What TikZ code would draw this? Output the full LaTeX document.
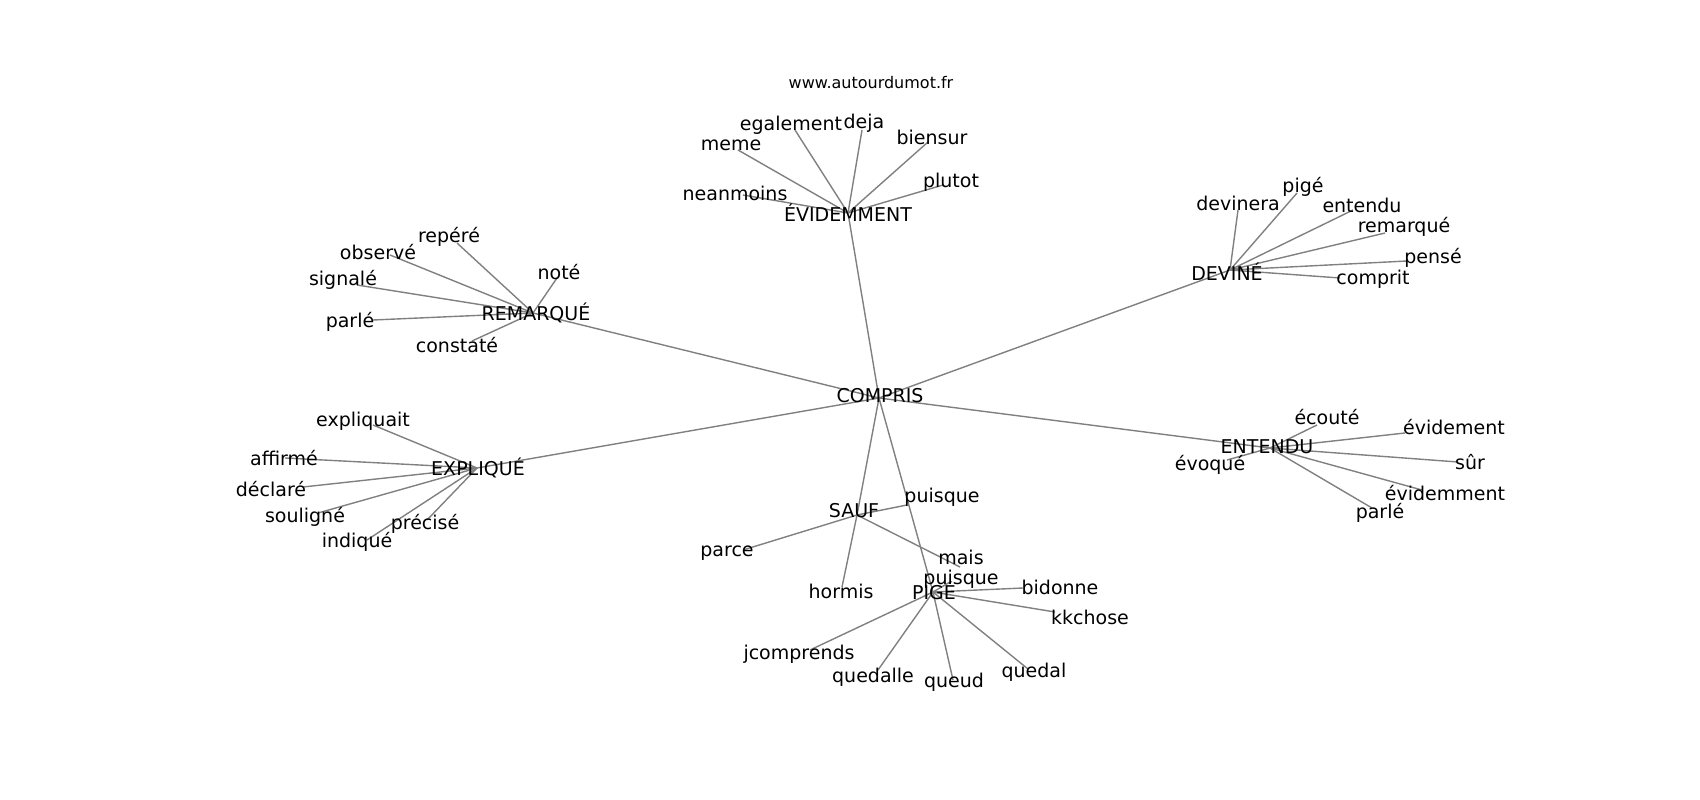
\documentclass[tikz,border=0pt]{standalone}
\usepackage{fontspec}
\setmainfont{DejaVu Sans}
\usetikzlibrary{positioning}
\tikzset{
  font={\fontsize{19pt}{22}\selectfont}}

\begin{document}
\begin{tikzpicture}[x=1pt,y=-1pt,
    word/.style ={rectangle, draw=none, fill=none, inner sep=0pt, text=black},
    site/.style ={rectangle, draw=none, inner sep=0pt, text=black,
      font={\fontsize{16pt}{19}\selectfont}},
    edge/.style={draw, color=gray, line width=1.4pt}]
    \useasboundingbox (0,0) rectangle (1700,800);
    \node[site] (title) at (871,83) {www.autourdumot.fr};
    % points of the graph
    \coordinate (compris) at (879,398);
    \coordinate (evidemment) at (848,213);
    \coordinate (remarque) at (533,313);
    \coordinate (devine) at (1230,270);
    \coordinate (entendu) at (1270,448);
    \coordinate (explique) at (477,468);
    \coordinate (sauf) at (857,515);
    \coordinate (pige) at (933,592);
    % around EVIDEMMENT
    \coordinate (neanmoins) at (743,195);
    \coordinate (meme) at (738,150);
    \coordinate (egalement) at (795,130);
    \coordinate (deja) at (862,130);
    \coordinate (biensur) at (928,142);
    \coordinate (plutot) at (943,185);
    % around REMARQUE
    \coordinate (repere) at (457,243);
    \coordinate (observe) at (390,255);
    \coordinate (signale) at (357,285);
    \coordinate (note) at (557,278);
    \coordinate (parle-r) at (373,320);
    \coordinate (constate) at (472,341);
    % around DEVINE
    \coordinate (devinera) at (1238,210);
    \coordinate (pige-d) at (1297,193);
    \coordinate (entendu-d) at (1353,210);
    \coordinate (remarque-d) at (1385,233);
    \coordinate (pense) at (1407,261);
    \coordinate (comprit) at (1340,278);
    % around ENTENDU
    \coordinate (ecoute) at (1317,425);
    \coordinate (evoque) at (1227,460);
    \coordinate (evidement) at (1405,433);
    \coordinate (sur) at (1458,462);
    \coordinate (evidemment-e) at (1422,490);
    \coordinate (parle-e) at (1372,508);
    % around EXPLIQUE
    \coordinate (expliquait) at (373,425);
    \coordinate (affirme) at (285,458);
    \coordinate (declare) at (303,487);
    \coordinate (souligne) at (318,513);
    \coordinate (precise) at (427,520);
    \coordinate (indique) at (367,540);
    % around SAUF
    \coordinate (puisque-s) at (907,505);
    \coordinate (parce) at (743,550);
    \coordinate (mais) at (960,567);
    \coordinate (hormis) at (842,587);
    % around PIGE
    \coordinate (puisque-p) at (950,582);
    \coordinate (bidonne) at (1023,588);
    \coordinate (kkchose) at (1055,612);
    \coordinate (jcomprends) at (810,650);
    \coordinate (quedalle) at (878,670);
    \coordinate (queud) at (953,680);
    \coordinate (quedal) at (1028,669);
    % connecting points with paths
    \begin{scope}[every path/.style=edge]
      % centre to the hubs
      \path (compris)--(evidemment);
      \path (compris)--(remarque);
      \path (compris)--(devine);
      \path (compris)--(entendu);
      \path (compris)--(explique);
      \path (compris)--(sauf);
      \path (compris)--(pige);
      % hubs to their words
      \path (evidemment)--(neanmoins);
      \path (evidemment)--(meme);
      \path (evidemment)--(egalement);
      \path (evidemment)--(deja);
      \path (evidemment)--(biensur);
      \path (evidemment)--(plutot);
      \path (remarque)--(repere);
      \path (remarque)--(observe);
      \path (remarque)--(signale);
      \path (remarque)--(note);
      \path (remarque)--(parle-r);
      \path (remarque)--(constate);
      \path (devine)--(devinera);
      \path (devine)--(pige-d);
      \path (devine)--(entendu-d);
      \path (devine)--(remarque-d);
      \path (devine)--(pense);
      \path (devine)--(comprit);
      \path (entendu)--(ecoute);
      \path (entendu)--(evoque);
      \path (entendu)--(evidement);
      \path (entendu)--(sur);
      \path (entendu)--(evidemment-e);
      \path (entendu)--(parle-e);
      \path (explique)--(expliquait);
      \path (explique)--(affirme);
      \path (explique)--(declare);
      \path (explique)--(souligne);
      \path (explique)--(precise);
      \path (explique)--(indique);
      \path (sauf)--(puisque-s);
      \path (sauf)--(parce);
      \path (sauf)--(mais);
      \path (sauf)--(hormis);
      \path (pige)--(puisque-p);
      \path (pige)--(bidonne);
      \path (pige)--(kkchose);
      \path (pige)--(jcomprends);
      \path (pige)--(quedalle);
      \path (pige)--(queud);
      \path (pige)--(quedal);
    \end{scope}
    % labels
    \node[word] (t-compris) at (880,396) {COMPRIS};
    \node[word] (t-evidemment) at (848,213) {ÉVIDEMMENT};
    \node[word] (t-remarque) at (536,313) {REMARQUÉ};
    \node[word] (t-devine) at (1227,272) {DEVINÉ};
    \node[word] (t-entendu) at (1267,447) {ENTENDU};
    \node[word] (t-explique) at (478,468) {EXPLIQUÉ};
    \node[word] (t-sauf) at (854,511) {SAUF};
    \node[word] (t-pige) at (934,591) {PIGÉ};
    \node[word] (t-neanmoins) at (735,193) {neanmoins};
    \node[word] (t-meme) at (731,145) {meme};
    \node[word] (t-egalement) at (791,125) {egalement};
    \node[word] (t-deja) at (864,123) {deja};
    \node[word] (t-biensur) at (932,137) {biensur};
    \node[word] (t-plutot) at (951,182) {plutot};
    \node[word] (t-repere) at (449,237) {repéré};
    \node[word] (t-observe) at (378,252) {observé};
    \node[word] (t-signale) at (343,280) {signalé};
    \node[word] (t-note) at (559,272) {noté};
    \node[word] (t-parle-r) at (350,322) {parlé};
    \node[word] (t-constate) at (457,345) {constaté};
    \node[word] (t-devinera) at (1238,203) {devinera};
    \node[word] (t-pige-d) at (1303,187) {pigé};
    \node[word] (t-entendu-d) at (1362,205) {entendu};
    \node[word] (t-remarque-d) at (1404,227) {remarqué};
    \node[word] (t-pense) at (1433,258) {pensé};
    \node[word] (t-comprit) at (1373,279) {comprit};
    \node[word] (t-ecoute) at (1327,417) {écouté};
    \node[word] (t-evoque) at (1210,465) {évoqué};
    \node[word] (t-evidement) at (1454,427) {évidement};
    \node[word] (t-sur) at (1470,462) {sûr};
    \node[word] (t-evidemment-e) at (1445,493) {évidemment};
    \node[word] (t-parle-e) at (1380,513) {parlé};
    \node[word] (t-expliquait) at (363,421) {expliquait};
    \node[word] (t-affirme) at (284,458) {affirmé};
    \node[word] (t-declare) at (271,489) {déclaré};
    \node[word] (t-souligne) at (305,517) {souligné};
    \node[word] (t-precise) at (425,524) {précisé};
    \node[word] (t-indique) at (357,542) {indiqué};
    \node[word] (t-puisque-s) at (942,497) {puisque};
    \node[word] (t-parce) at (727,553) {parce};
    \node[word] (t-mais) at (961,557) {mais};
    \node[word] (t-hormis) at (841,591) {hormis};
    \node[word] (t-puisque-p) at (961,579) {puisque};
    \node[word] (t-bidonne) at (1060,587) {bidonne};
    \node[word] (t-kkchose) at (1090,617) {kkchose};
    \node[word] (t-jcomprends) at (799,654) {jcomprends};
    \node[word] (t-quedalle) at (873,677) {quedalle};
    \node[word] (t-queud) at (954,682) {queud};
    \node[word] (t-quedal) at (1034,672) {quedal};
  \end{tikzpicture}
\end{document}
